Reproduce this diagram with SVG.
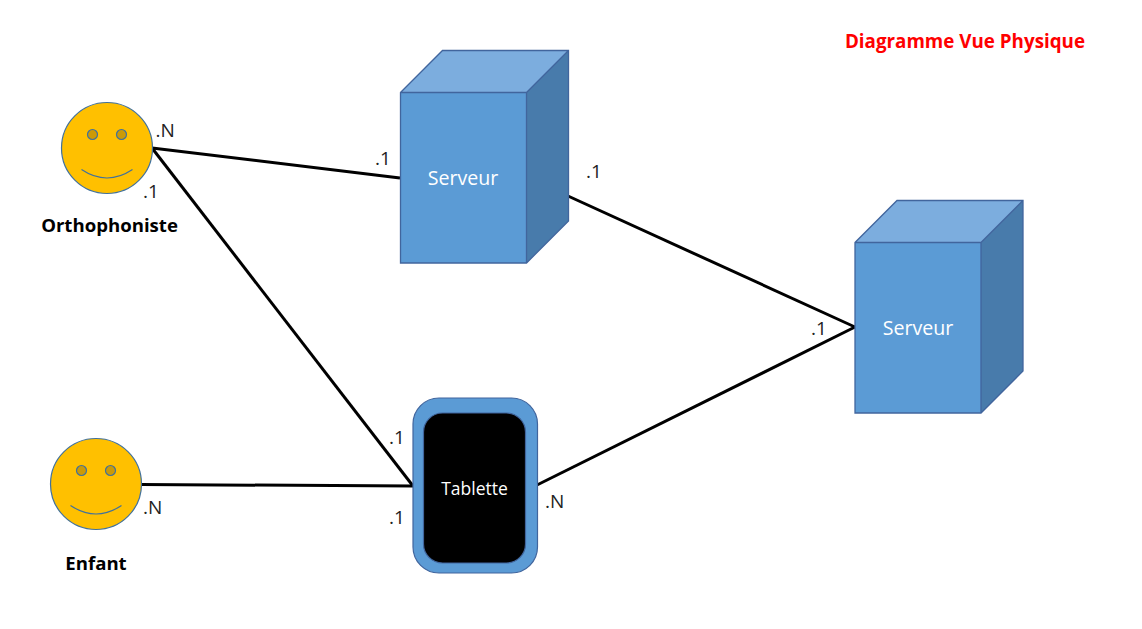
<svg xmlns="http://www.w3.org/2000/svg" width="1142" height="629" viewBox="0 0 1142 629">
<defs>
<g id="cube">
<rect x="0" y="42" width="126" height="170.5" fill="#5b9bd5"/>
<path d="M0 42L42 0H168L126 42Z" fill="#7cadde"/>
<path d="M126 42L168 0V170.500L126 212.500Z" fill="#487bab"/>
<path d="M0 42L42 0H168V170.500L126 212.500H0ZM0 42H126L168 0M126 42V212.500" fill="none" stroke="#41659d" stroke-width="1.300"/>
</g>
<g id="face">
<circle cx="46" cy="46.500" r="45.500" fill="#ffc000" stroke="#41719c" stroke-width="1.200"/>
<circle cx="31.500" cy="33" r="5" fill="#cc9a06" stroke="#41719c" stroke-width="1.200"/>
<circle cx="60.500" cy="33" r="5" fill="#cc9a06" stroke="#41719c" stroke-width="1.200"/>
<path d="M20.500 68Q46 85 71.500 68" fill="none" stroke="#41719c" stroke-width="1.200"/>
</g>
</defs>
<style>
text{font-family:"Open Sans","Noto Sans","Liberation Sans",sans-serif}
.c{fill:none;stroke:#000;stroke-width:3}
.l{font-size:19px;fill:#222}
.b{font-size:18.600px;font-weight:700;fill:#000;text-anchor:middle}
.w{font-size:19.600px;fill:#fff;text-anchor:middle}
</style>
<rect width="1142" height="629" fill="#fff"/>
<g id="connectors">
<path class="c" d="M152 148L400 178"/>
<path class="c" d="M152 148L413 486"/>
<path class="c" d="M141 484.500L413 486"/>
<path class="c" d="M568 196L855 327"/>
<path class="c" d="M537 485L855 327"/>
</g>
<g id="orthophoniste">
<use href="#face" x="61" y="101.500"/>
<text class="b" x="109.500" y="232">Orthophoniste</text>
</g>
<g id="enfant">
<use href="#face" x="50" y="437.500"/>
<text class="b" x="96" y="570">Enfant</text>
</g>
<g id="serveur-1">
<use href="#cube" x="400.500" y="50.500"/>
<text class="w" x="463" y="185">Serveur</text>
</g>
<g id="serveur-2">
<use href="#cube" x="855" y="200.500"/>
<text class="w" x="918" y="335">Serveur</text>
</g>
<g id="tablette">
<rect x="413" y="398" width="124.500" height="175" rx="26" fill="#5b9bd5" stroke="#41659d" stroke-width="1.200"/>
<rect x="423.500" y="413" width="102" height="150" rx="19" fill="#000" stroke="#41659d" stroke-width="1.200"/>
<text class="w" x="474.500" y="495" style="font-size:17.500px">Tablette</text>
</g>
<g id="labels">
<text class="l" x="155.500" y="137">.N</text>
<text class="l" x="143" y="198">.1</text>
<text class="l" x="375" y="165">.1</text>
<text class="l" x="586" y="178">.1</text>
<text class="l" x="811" y="335">.1</text>
<text class="l" x="389" y="444">.1</text>
<text class="l" x="389" y="524">.1</text>
<text class="l" x="143" y="514">.N</text>
<text class="l" x="545" y="508">.N</text>
<text x="965" y="47.500" text-anchor="middle" style="font-size:18.800px;font-weight:700;fill:#f00">Diagramme Vue Physique</text>
</g>
</svg>
